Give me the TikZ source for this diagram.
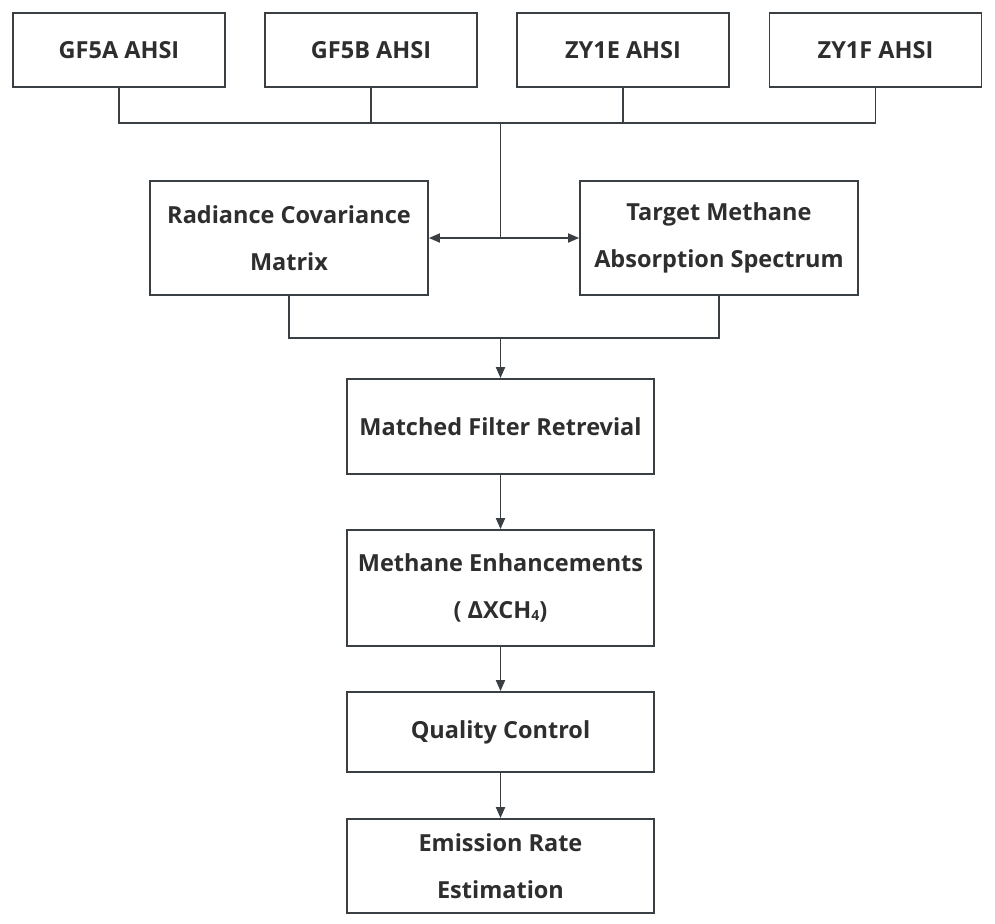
\documentclass[tikz,border=0pt]{standalone}
\usepackage{fontspec}
\setmainfont{Open Sans}
\usetikzlibrary{arrows.meta,positioning}
\definecolor{ln}{HTML}{3A3F44}
\definecolor{tx}{HTML}{2E2E2E}
\tikzset{
  box/.style={draw=ln, line width=1.8pt, rectangle, minimum width=#1, inner sep=0pt,
    font=\fontsize{23.5}{47}\selectfont\bfseries, text=tx, align=center},
  conn/.style={draw=ln, line width=1.8pt},
  arr/.style={conn, -{Triangle[length=11pt,width=9pt]}},
}
\begin{document}
\begin{tikzpicture}[x=1pt,y=-1pt]
\useasboundingbox (0,0) rectangle (995,923);
\fill[white] (0,0) rectangle (995,923);
% top boxes
\node[box=212pt, minimum height=74pt] (a) at (119,50) {GF5A AHSI};
\node[box=212pt, minimum height=74pt] (b) at (371,50) {GF5B AHSI};
\node[box=212pt, minimum height=74pt] (c) at (623,50) {ZY1E AHSI};
\node[box=212pt, minimum height=74pt] (d) at (875.5,50) {ZY1F AHSI};
% middle boxes
\node[box=278pt, minimum height=114pt] (r) at (289,238) {Radiance Covariance\\Matrix};
\node[box=278pt, minimum height=114pt] (t) at (719,238) {Target Methane\\Absorption Spectrum};
% chain
\node[box=307pt, minimum height=95pt] (m) at (500.5,426.5) {Matched Filter Retrevial};
\node[box=307pt, minimum height=116pt] (e) at (500.5,588) {Methane Enhancements\\( ΔXCH\raisebox{-0.15ex}{\fontsize{14}{14}\selectfont 4})};
\node[box=307pt, minimum height=80pt] (q) at (500.5,732) {Quality Control};
\node[box=307pt, minimum height=94pt] (s) at (500.5,866) {Emission Rate\\Estimation};
% junctions
\coordinate (h1) at (500.5,123);
\coordinate (h2) at (500.5,238);
\coordinate (h3) at (500.5,338);
% top connectors
\draw[conn] (a.south) -- (a.south |- h1) -- (d.south |- h1) -- (d.south);
\draw[conn] (b.south) -- (b.south |- h1);
\draw[conn] (c.south) -- (c.south |- h1);
\draw[conn] (h1) -- (h2);
\draw[arr] (h2) -- (r.east);
\draw[arr] (h2) -- (t.west);
% merge
\draw[conn] (r.south) -- (r.south |- h3) -- (t.south |- h3) -- (t.south);
\draw[arr] (h3) -- (m.north);
\draw[arr] (m) -- (e);
\draw[arr] (e) -- (q);
\draw[arr] (q) -- (s);
\end{tikzpicture}
\end{document}
